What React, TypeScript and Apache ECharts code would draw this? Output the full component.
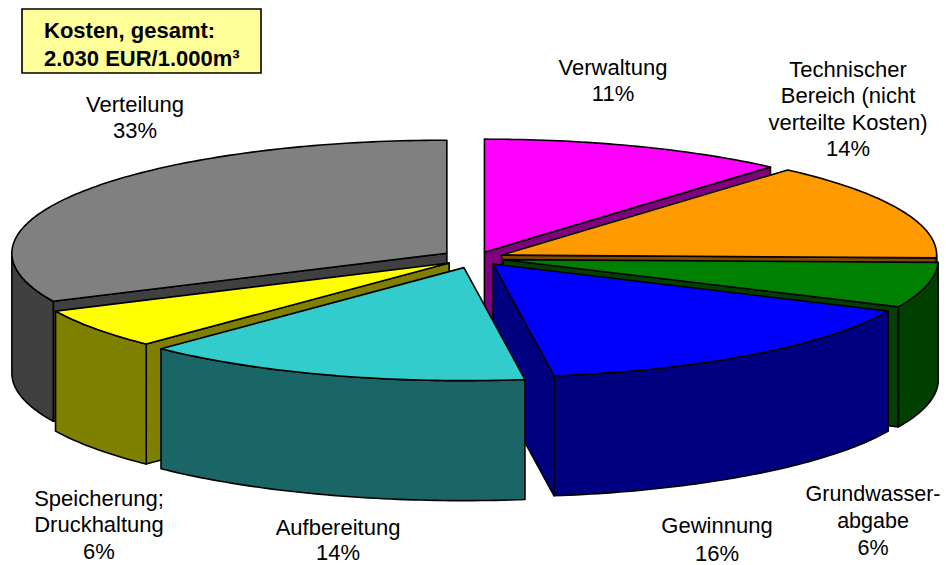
import React, { useEffect, useRef } from "react";
import * as echarts from "echarts";

const categories = ["Verwaltung", "Technischer\nBereich (nicht\nverteilte Kosten)", "Grundwasser-\nabgabe", "Gewinnung", "Aufbereitung", "Speicherung;\nDruckhaltung", "Verteilung"];
// shares of the circle as drawn
const drawnShares = [11.42, 13.97, 6.47, 15.9, 14.5, 5.74, 32.0];
// percentages as printed beside the slices
const printedPercents = [11, 14, 6, 16, 14, 6, 33];
const topColors = ["#FF00FF", "#FF9900", "#008000", "#0000FF", "#33CCCC", "#FFFF00", "#808080"];
const sideColors = ["#800080", "#7F4C00", "#004000", "#000080", "#1A6666", "#808000", "#404040"];
const explodeDistances = [24, 28, 28, 28.5, 39, 33, 34.5];
const paintOrder = [1, 2, 3, 4, 6, 5, 0];
const labelAnchors = [[613, 54], [848, 56], [873, 480], [717, 512], [338, 515], [99, 485], [135, 91]];
const labelLineHeights = [26, 26.5, 27, 27.5, 25, 26.5, 26.5];
const labelFontSizes = [22, 22, 21.5, 22, 22, 22, 22];

const CX = 476, CY = 258, RX = 435, RY = 113, DEPTH = 120;
const rad = (d: number) => (d * Math.PI) / 180;
const total = drawnShares.reduce((a, b) => a + b, 0);

function renderSlice(params: any, api: any) {
  const i = params.dataIndex;
  const before = drawnShares.slice(0, i).reduce((a, b) => a + b, 0);
  const t1 = (before / total) * 360;
  const t2 = t1 + (api.value(0) / total) * 360;
  const mid = rad((t1 + t2) / 2);
  const e = explodeDistances[i];
  const ax = CX + e * Math.sin(mid);
  const ay = CY - e * Math.cos(mid) * (RY / RX);
  const pt = (t: number, d = 0): number[] => [ax + RX * Math.sin(rad(t)), ay - RY * Math.cos(rad(t)) + d];
  const arc = (a: number, b: number, d = 0) => {
    const pts: number[][] = [];
    const n = Math.max(1, Math.ceil(Math.abs(b - a)));
    for (let k = 0; k <= n; k++) pts.push(pt(a + ((b - a) * k) / n, d));
    return pts;
  };
  const z = paintOrder[i] * 10;
  const poly = (points: number[][], fill: string, dz: number) => ({
    type: "polygon",
    z2: z + dz,
    shape: { points },
    style: { fill, stroke: "#000", lineWidth: 1.6, lineJoin: "round" },
  });
  const children: any[] = [];
  const side = sideColors[i];
  const wall = (t: number) => poly([[ax, ay], pt(t), pt(t, DEPTH), [ax, ay + DEPTH]], side, 1);
  if (Math.sin(rad(t2)) > 0.001) children.push(wall(t2));
  if (Math.sin(rad(t1)) < -0.001) children.push(wall(t1));
  const a = Math.max(t1, 90), b = Math.min(t2, 270);
  if (b > a) children.push(poly([...arc(a, b), ...arc(b, a, DEPTH)], side, 2));
  children.push(poly([[ax, ay], ...arc(t1, t2)], topColors[i], 3));
  return { type: "group", children };
}

const FONT = '"Liberation Sans", Arial, sans-serif';

export default function App() {
  const ref = useRef<HTMLDivElement>(null);
  useEffect(() => {
    document.body.style.margin = "0";
    const chart = echarts.init(ref.current!, undefined, { renderer: "svg" });
    chart.setOption({
      animation: false,
      backgroundColor: "#fff",
      series: [
        {
          type: "custom",
          coordinateSystem: "none",
          renderItem: renderSlice,
          data: drawnShares.map((v, i) => ({ value: [v], name: categories[i] })),
        },
      ],
      graphic: [
        ...categories.map((c, i) => ({
          type: "text",
          x: labelAnchors[i][0],
          y: labelAnchors[i][1],
          style: {
            text: `${c}\n${printedPercents[i]}%`,
            fill: "#000",
            font: `${labelFontSizes[i]}px ${FONT}`,
            lineHeight: labelLineHeights[i],
            textAlign: "center",
            textVerticalAlign: "top",
          },
        })),
        {
          type: "rect",
          shape: { x: 22, y: 9, width: 239, height: 64 },
          style: { fill: "#FFFF99", stroke: "#000", lineWidth: 1.6 },
        },
        {
          type: "text",
          x: 44,
          y: 16,
          style: {
            text: "Kosten, gesamt:\n2.030 EUR/1.000m³",
            fill: "#000",
            font: `bold 22px ${FONT}`,
            lineHeight: 28,
            textAlign: "left",
            textVerticalAlign: "top",
          },
        },
      ],
    });
    return () => chart.dispose();
  }, []);
  return <div ref={ref} style={{ width: 946, height: 565 }} />;
}
